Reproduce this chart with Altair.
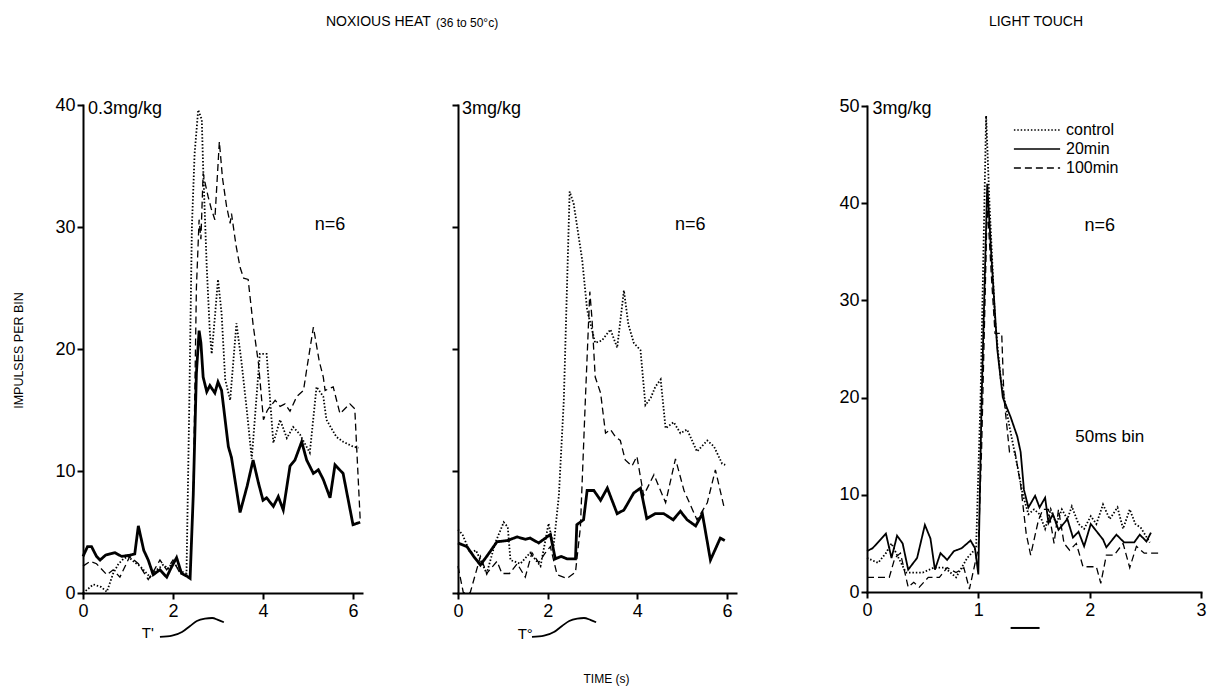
import altair as alt
import pandas as pd

FONT = "Liberation Sans"
SERIES = ["control", "20min", "100min"]
DASHES = [[1.5, 1.9], [1, 0], [7, 4]]

# ---------------- Panel 1: noxious heat, 0.3 mg/kg ----------------
p1_ctrl_t = [0, 0.1, 0.23, 0.4, 0.53, 0.67, 0.79, 0.9, 1.0, 1.15, 1.27, 1.49, 1.6, 1.78, 1.9, 2.0, 2.15, 2.3, 2.36, 2.42,
             2.48, 2.56, 2.64, 2.67, 2.75, 2.82, 2.86, 2.93, 3.0, 3.08, 3.16, 3.27, 3.41, 3.52, 3.64, 3.75, 3.93, 4.08,
             4.23, 4.38, 4.53, 4.67, 4.82, 5.04, 5.19, 5.34, 5.41, 5.63, 5.78, 6.0, 6.12]
p1_ctrl_v = [0, 0.3, 0.7, 0.5, 0.1, 1.6, 2.4, 2.8, 3.0, 2.5, 2.2, 1.3, 1.8, 2.3, 2.0, 2.6, 1.8, 1.6, 15, 30,
             36, 39.6, 38.8, 34.9, 26.7, 21.3, 19.6, 22.6, 25.7, 22.9, 17.5, 15.8, 22.1, 19, 15, 11.0, 19.6, 19.6,
             12.3, 14.2, 12.7, 13.6, 13.0, 11.5, 16.9, 16.1, 14.2, 12.8, 12.4, 12.0, 11.9]
p1_solid_t = [0, 0.1, 0.19, 0.3, 0.38, 0.5, 0.6, 0.71, 0.86, 1.04, 1.15, 1.23, 1.35, 1.45, 1.56, 1.71, 1.86, 1.95, 2.08,
              2.19, 2.3, 2.38, 2.45, 2.52, 2.58, 2.62, 2.67, 2.75, 2.82, 2.93, 3.0, 3.08, 3.23, 3.3, 3.49, 3.65, 3.78,
              3.9, 4.0, 4.08, 4.23, 4.34, 4.45, 4.6, 4.71, 4.86, 4.97, 5.12, 5.23, 5.34, 5.49, 5.6, 5.78, 6.0, 6.16]
p1_solid_v = [3.0, 3.8, 3.8, 3.0, 2.7, 3.1, 3.2, 3.3, 3.0, 3.1, 3.2, 5.5, 3.5, 2.7, 1.5, 1.9, 1.3, 2.0, 2.9,
              1.6, 1.4, 1.2, 8, 18, 21.5, 20.5, 17.7, 16.5, 17.0, 16.4, 17.3, 16.6, 12.0, 11.1, 6.6, 8.8, 10.9,
              9.0, 7.6, 7.8, 7.1, 7.9, 6.8, 10.4, 10.9, 12.4, 10.9, 9.8, 10.1, 9.3, 7.8, 10.5, 9.8, 5.6, 5.8]
p1_dash_t = [0, 0.16, 0.3, 0.53, 0.67, 0.82, 1.04, 1.23, 1.45, 1.6, 1.71, 1.86, 2.0, 2.16, 2.3, 2.38, 2.45, 2.52, 2.58,
             2.62, 2.67, 2.72, 2.78, 2.85, 2.93, 3.03, 3.1, 3.19, 3.27, 3.3, 3.4, 3.49, 3.57, 3.67, 3.78, 3.9, 4.01,
             4.1, 4.27, 4.38, 4.49, 4.6, 4.75, 4.9, 4.97, 5.12, 5.25, 5.34, 5.38, 5.56, 5.71, 5.93, 6.04, 6.16]
p1_dash_v = [2.2, 2.6, 2.4, 1.5, 1.9, 1.3, 3.0, 2.4, 1.1, 2.0, 2.7, 1.9, 2.7, 1.6, 1.4, 1.2, 8, 25, 30.6,
             29, 34.4, 33.5, 32.5, 31.5, 30.6, 37.0, 34, 31.7, 30.3, 31.1, 28.5, 26.7, 25.8, 25.7, 22, 18.8, 14.2,
             15.0, 15.8, 15.3, 15.5, 14.9, 16.1, 16.6, 18.3, 21.8, 19, 17.7, 16.6, 16.9, 14.7, 15.5, 15.1, 6.0]

# ---------------- Panel 2: noxious heat, 3 mg/kg ----------------
p2_ctrl_t = [0, 0.1, 0.27, 0.4, 0.54, 0.64, 0.83, 1.02, 1.11, 1.17, 1.39, 1.61, 1.84, 2.02, 2.13, 2.25, 2.36, 2.49,
             2.58, 2.77, 2.88, 3.06, 3.21, 3.40, 3.55, 3.70, 3.8, 3.92, 4.07, 4.18, 4.3, 4.4, 4.52, 4.63, 4.81, 4.96,
             5.11, 5.33, 5.56, 5.71, 5.89, 5.96]
p2_ctrl_v = [5.2, 4.8, 3.3, 3.5, 2.4, 1.6, 4.1, 5.8, 5.4, 2.7, 2.4, 3.3, 2.2, 5.7, 3.8, 8, 15.8, 32.9,
             31.9, 27.3, 23.2, 20.5, 20.7, 21.6, 20.1, 24.8, 22, 20.5, 19.9, 15.4, 16, 16.9, 17.5, 13.5, 14.0, 13.1,
             13.4, 11.6, 12.5, 12.0, 10.6, 10.5]
p2_solid_t = [0, 0.2, 0.35, 0.5, 0.64, 0.87, 1.1, 1.32, 1.5, 1.61, 1.8, 1.95, 2.06, 2.17, 2.3, 2.43, 2.62, 2.65, 2.8,
              2.88, 3.03, 3.18, 3.33, 3.55, 3.70, 3.92, 4.07, 4.21, 4.4, 4.59, 4.8, 4.96, 5.11, 5.3, 5.45, 5.63,
              5.85, 5.95]
p2_solid_v = [4.1, 3.8, 3.0, 2.3, 3.0, 4.2, 4.3, 4.6, 4.4, 4.5, 4.1, 4.5, 4.8, 2.8, 3.0, 2.8, 2.8, 5.6, 6.0,
              8.4, 8.4, 7.6, 8.6, 6.5, 6.8, 8.2, 8.6, 6.1, 6.5, 6.5, 6.0, 6.7, 6.0, 5.5, 6.5, 2.7,
              4.5, 4.3]
p2_dash_t = [0, 0.12, 0.27, 0.5, 0.64, 0.87, 0.98, 1.15, 1.32, 1.5, 1.65, 1.8, 1.95, 2.06, 2.21, 2.43, 2.62, 2.73,
             2.84, 2.94, 2.99, 3.06, 3.18, 3.29, 3.40, 3.51, 3.62, 3.73, 3.88, 3.99, 4.14, 4.37, 4.63, 4.85, 5.04,
             5.33, 5.56, 5.74, 5.93]
p2_dash_v = [2.2, 0, 0, 3.0, 1.6, 2.6, 1.6, 1.6, 2.4, 1.3, 3.3, 2.5, 3.3, 3.8, 1.5, 1.2, 1.7, 5.4,
             15.8, 24.7, 22.4, 17.7, 16.4, 13.1, 13.4, 12.8, 12.5, 10.9, 10.4, 11.2, 8.0, 9.7, 7.4, 11.0, 8.4,
             6.0, 7.4, 10.1, 7.1]

# ---------------- Panel 3: light touch, 3 mg/kg ----------------
p3_ctrl_t = [0, 0.1, 0.17, 0.22, 0.27, 0.35, 0.5, 0.6, 0.7, 0.8, 0.9, 0.98, 1.02, 1.07, 1.1, 1.15, 1.2, 1.28, 1.35,
             1.4, 1.45, 1.5, 1.55, 1.6, 1.65, 1.7, 1.75, 1.8, 1.84, 1.9, 1.95, 2.01, 2.06, 2.12, 2.18, 2.25, 2.3,
             2.36, 2.41, 2.46, 2.54]
p3_ctrl_v = [3.5, 3.0, 4.0, 5.0, 3.8, 2.0, 2.0, 2.5, 2.5, 1.5, 3.5, 4.5, 20, 49, 40, 28, 22, 17, 13,
             10, 8.0, 8.5, 8.0, 6.5, 8.5, 7.0, 8.5, 7.5, 8.8, 7.0, 6.5, 7.8, 7.0, 9.0, 7.5, 8.7, 6.5,
             8.5, 7.0, 6.6, 5.1]
p3_solid_t = [0, 0.05, 0.17, 0.22, 0.27, 0.32, 0.37, 0.45, 0.52, 0.57, 0.61, 0.66, 0.72, 0.78, 0.85, 0.93, 0.97, 1.0,
              1.03, 1.08, 1.12, 1.17, 1.22, 1.29, 1.35, 1.38, 1.41, 1.45, 1.51, 1.55, 1.6, 1.63, 1.67, 1.72, 1.8,
              1.85, 1.9, 1.95, 2.01, 2.12, 2.15, 2.24, 2.31, 2.4, 2.45, 2.51, 2.55]
p3_solid_v = [4.2, 4.5, 6.0, 3.5, 5.8, 5.0, 2.3, 3.5, 6.9, 5.5, 2.3, 4.0, 3.3, 4.2, 4.5, 5.3, 4.5, 1.8,
              20, 42, 34, 25, 20, 18, 16, 14.4, 10.5, 8.7, 9.9, 8.7, 9.7, 7.1, 8.0, 6.4, 7.5,
              5.6, 6.2, 4.7, 7.0, 5.4, 4.6, 5.9, 5.1, 5.1, 5.9, 5.2, 6.1]
p3_dash_t = [0, 0.2, 0.25, 0.3, 0.37, 0.42, 0.47, 0.55, 0.65, 0.72, 0.8, 0.87, 0.92, 1.0, 1.03, 1.08, 1.12, 1.15,
             1.21, 1.23, 1.28, 1.33, 1.38, 1.43, 1.47, 1.54, 1.58, 1.63, 1.68, 1.72, 1.77, 1.82, 1.88, 1.94, 2.06,
             2.1, 2.15, 2.22, 2.3, 2.36, 2.42, 2.49, 2.64]
p3_dash_v = [1.5, 1.5, 3.5, 4.0, 0.5, 1.0, 0.5, 1.5, 1.5, 2.5, 2.0, 2.5, 0.3, 4.5, 15, 40, 32, 26.6,
             26.6, 20, 14.4, 14.4, 11, 6, 3.8, 7.4, 8.5, 8.5, 5, 8.5, 5, 4.3, 5, 2.6, 2.6,
             0.9, 3.8, 3.8, 5.0, 2.5, 4.7, 4.0, 4.0]

# stimulus markers drawn under the panels (temperature ramp / touch bar)
ramp1_t = [1.71, 1.98, 2.2, 2.38, 2.53, 2.71, 2.87, 3.0, 3.13]
ramp2_t = [1.65, 1.92, 2.14, 2.32, 2.48, 2.66, 2.81, 2.95, 3.08]
ramp_v = [-3.6, -3.5, -3.2, -2.7, -2.3, -2.1, -2.05, -2.2, -2.4]
touch_t = [1.29]
touch_t2 = [1.55]
touch_v = [-3.7]


def frame(parts):
    rows = []
    for name, ts, vs in parts:
        for t, v in zip(ts, vs):
            rows.append({"series": name, "t": t, "v": v})
    return pd.DataFrame(rows)


LEGEND = alt.Legend(
    title=None, orient="none", legendX=1029, legendY=122, direction="vertical",
    symbolType="M-3.3,0H3.3", symbolSize=196, symbolStrokeWidth=1.6,
    symbolStrokeColor="black", labelFont=FONT, labelFontSize=16, labelColor="black",
    labelOffset=21, rowPadding=3, padding=0,
)

AX = dict(domainColor="black", domainWidth=2, tickColor="black", tickWidth=2, tickSize=6,
          grid=False, labelFont=FONT, labelFontSize=18, labelColor="black", labelFlush=False,
          titleFont=FONT, titleColor="black", titleFontWeight="normal", domainCap="square")


def panel(df, xdom, xrange, ydom, yrange, xaxis, yaxis, solid_w, notes, extras):
    """Returns a flat list of layers; every layer repeats the same explicit scales."""
    def xs():
        return alt.Scale(domain=xdom, range=xrange, nice=False, zero=False)

    def ys():
        return alt.Scale(domain=ydom, range=yrange, nice=False, zero=False)

    lines = alt.Chart(df).transform_calculate(
        w=f"datum.series == '20min' ? {solid_w} : (datum.series == 'control' ? 1.8 : 1.3)"
    ).mark_line(color="black").encode(
        x=alt.X("t:Q", scale=xs(), axis=alt.Axis(**AX, **xaxis)),
        y=alt.Y("v:Q", scale=ys(), axis=alt.Axis(**AX, **yaxis)),
        strokeDash=alt.StrokeDash("series:N", scale=alt.Scale(domain=SERIES, range=DASHES),
                                  sort=SERIES, legend=LEGEND),
        strokeWidth=alt.StrokeWidth("w:Q", scale=None, legend=None),
    )
    layers = [lines]
    for label, t, v, size, align in notes:
        layers.append(
            alt.Chart(pd.DataFrame({"label": [label], "t": [t], "v": [v]})).mark_text(
                font=FONT, fontSize=size, align=align, baseline="middle", color="black"
            ).encode(
                x=alt.X("t:Q", scale=xs(), axis=None),
                y=alt.Y("v:Q", scale=ys(), axis=None),
                text="label:N",
            )
        )
    for kind, d in extras:
        if kind == "ramp":
            layers.append(
                alt.Chart(d).mark_line(color="black", strokeWidth=1.8, interpolate="monotone").encode(
                    x=alt.X("t:Q", scale=xs(), axis=None), y=alt.Y("v:Q", scale=ys(), axis=None)
                )
            )
        else:
            layers.append(
                alt.Chart(d).mark_rule(color="black", strokeWidth=2).encode(
                    x=alt.X("t:Q", scale=xs(), axis=None), x2="t2:Q",
                    y=alt.Y("v:Q", scale=ys(), axis=None)
                )
            )
    return layers


df1 = frame([("control", p1_ctrl_t, p1_ctrl_v), ("20min", p1_solid_t, p1_solid_v), ("100min", p1_dash_t, p1_dash_v)])
df2 = frame([("control", p2_ctrl_t, p2_ctrl_v), ("20min", p2_solid_t, p2_solid_v), ("100min", p2_dash_t, p2_dash_v)])
df3 = frame([("control", p3_ctrl_t, p3_ctrl_v), ("20min", p3_solid_t, p3_solid_v), ("100min", p3_dash_t, p3_dash_v)])

p1 = panel(
    df1, [0, 6.2], [83, 362], [0, 40], [593, 105],
    dict(orient="bottom", offset=-97, values=[0, 2, 4, 6], title=None, labelPadding=3),
    dict(orient="left", offset=-83, values=[0, 10, 20, 30, 40], title="IMPULSES PER BIN",
         titleX=-65, titleY=350, titleAngle=270, titleAlign="center", titleBaseline="middle",
         titleFontSize=12.5, labelPadding=2),
    2.8,
    [("0.3mg/kg", 0.11, 39.7, 18, "left"), ("n=6", 5.49, 30.2, 18, "center"), ("T'", 1.44, -3.3, 15, "center")],
    [("ramp", pd.DataFrame({"t": ramp1_t, "v": ramp_v}))],
)

p2 = panel(
    df2, [0, 6.2], [458, 736], [0, 40], [593, 105],
    dict(orient="bottom", offset=-97, values=[0, 2, 4, 6], title="TIME (s)", labelPadding=3,
         titleX=606, titleY=85, titleAlign="center", titleBaseline="middle", titleFontSize=12),
    dict(orient="left", offset=-458, values=[0, 10, 20, 30, 40], title=None, labels=False),
    2.8,
    [("3mg/kg", 0.09, 39.7, 18, "left"), ("n=6", 5.18, 30.2, 18, "center"), ("T°", 1.5, -3.4, 15, "center")],
    [("ramp", pd.DataFrame({"t": ramp2_t, "v": ramp_v}))],
)

p3 = panel(
    df3, [0, 3], [867, 1201], [0, 50], [592, 106],
    dict(orient="bottom", offset=-98, values=[0, 1, 2, 3], title=None, labelPadding=3),
    dict(orient="left", offset=-867, values=[0, 10, 20, 30, 40, 50], title=None, labelPadding=2),
    1.8,
    [("3mg/kg", 0.05, 49.7, 18, "left"), ("n=6", 2.09, 37.7, 18, "center"),
     ("50ms bin", 2.18, 15.9, 17, "center")],
    [("bar", pd.DataFrame({"t": touch_t, "t2": touch_t2, "v": touch_v}))],
)


def title_text(label, x, y, size, align):
    return alt.Chart(pd.DataFrame({"label": [label]})).mark_text(
        font=FONT, fontSize=size, align=align, baseline="middle", color="black"
    ).encode(x=alt.value(x), y=alt.value(y), text="label:N")


titles = [
    title_text("NOXIOUS HEAT", 326, 22, 14, "left"),
    title_text("(36 to 50°c)", 436, 23, 12, "left"),
    title_text("LIGHT TOUCH", 1036, 22, 14, "center"),
]

chart = alt.layer(*p1, *p2, *p3, *titles).resolve_scale(
    x="independent", y="independent"
).properties(
    width=1211, height=690, autosize=alt.AutoSizeParams(type="none"), padding=0,
    background="white",
).configure_view(stroke=None)

chart.save("out.html", embed_options={"renderer": "svg", "actions": False})
